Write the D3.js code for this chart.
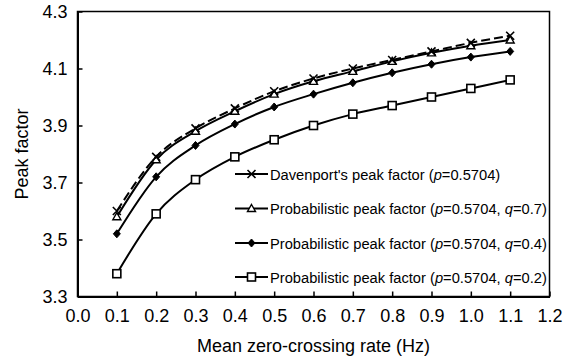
<!DOCTYPE html>
<html>
<head>
<meta charset="utf-8">
<script src="https://cdn.jsdelivr.net/npm/d3@7.9.0/dist/d3.min.js"></script>
<style>
  body { margin: 0; background: #fff; }
  svg text { font-family: "Liberation Sans", Arial, sans-serif; fill: #000; }
</style>
</head>
<body>
<svg width="569" height="358"></svg>
<script>
// data
const rates = [0.1, 0.2, 0.3, 0.4, 0.5, 0.6, 0.7, 0.8, 0.9, 1.0, 1.1];
const davenport = [3.60, 3.79, 3.89, 3.96, 4.02, 4.065, 4.10, 4.13, 4.16, 4.19, 4.215];
const probQ07 = [3.58, 3.78, 3.88, 3.95, 4.01, 4.055, 4.09, 4.125, 4.155, 4.18, 4.20];
const probQ04 = [3.52, 3.72, 3.83, 3.905, 3.965, 4.01, 4.05, 4.085, 4.115, 4.14, 4.16];
const probQ02 = [3.38, 3.59, 3.71, 3.79, 3.85, 3.90, 3.94, 3.97, 4.00, 4.03, 4.06];
const xTicks = [0, 0.1, 0.2, 0.3, 0.4, 0.5, 0.6, 0.7, 0.8, 0.9, 1.0, 1.1, 1.2];
const yTicks = [3.3, 3.5, 3.7, 3.9, 4.1, 4.3];

const series = [
  { name: "Davenport's peak factor", q: null, values: davenport, marker: 'cross', dash: '9,4' },
  { name: 'Probabilistic peak factor', q: '0.7', values: probQ07, marker: 'triangle', dash: null },
  { name: 'Probabilistic peak factor', q: '0.4', values: probQ04, marker: 'diamond', dash: null },
  { name: 'Probabilistic peak factor', q: '0.2', values: probQ02, marker: 'square', dash: null }
];

const svg = d3.select('svg');
const plotL = 77.5, plotR = 549.5, plotT = 11.5, plotB = 296.5;

let x = d3.scaleLinear().domain([0, 1.2]).range([plotL, plotR]);
let y = d3.scaleLinear().domain([3.3, 4.3]).range([plotB, plotT]);

// frame
svg.append('rect')
  .attr('x', plotL).attr('y', plotT)
  .attr('width', plotR - plotL).attr('height', plotB - plotT)
  .attr('fill', 'none').attr('stroke', '#000').attr('stroke-width', 1.5);

// axes, ticks pointing inwards
let xAxis = svg.append('g')
  .attr('transform', `translate(0,${plotB})`)
  .call(d3.axisBottom(x).tickValues(xTicks).tickSizeInner(-5).tickSizeOuter(0).tickPadding(0).tickFormat(d3.format('.1f')));
let yAxis = svg.append('g')
  .attr('transform', `translate(${plotL},0)`)
  .call(d3.axisLeft(y).tickValues(yTicks).tickSizeInner(-5).tickSizeOuter(0).tickPadding(10).tickFormat(d3.format('.1f')));

[xAxis, yAxis].forEach((g) => {
  g.attr('font-family', null).attr('font-size', null);
  g.select('.domain').attr('stroke', '#000').attr('stroke-width', 2);
  g.selectAll('.tick line').attr('stroke', '#000').attr('stroke-width', 1.5);
  g.selectAll('.tick text').style('font-size', '18px').attr('fill', '#000');
});
xAxis.selectAll('.tick text').attr('y', 25).attr('dy', null);
yAxis.selectAll('.tick text').attr('dy', '0.35em');

// axis titles
svg.append('text')
  .attr('x', (plotL + plotR) / 2).attr('y', 352)
  .attr('text-anchor', 'middle').style('font-size', '18px')
  .text('Mean zero-crossing rate (Hz)');
svg.append('text')
  .attr('transform', `translate(28,${(plotT + plotB) / 2}) rotate(-90)`)
  .attr('text-anchor', 'middle').style('font-size', '18px')
  .text('Peak factor');

function drawMarker(g, kind, cx, cy) {
  if (kind === 'cross') {
    g.append('path')
      .attr('d', `M${cx - 4},${cy - 4}L${cx + 4},${cy + 4}M${cx - 4},${cy + 4}L${cx + 4},${cy - 4}`)
      .attr('stroke', '#000').attr('stroke-width', 1.6).attr('fill', 'none');
  } else if (kind === 'triangle') {
    g.append('path')
      .attr('d', `M${cx},${cy - 4}L${cx + 4},${cy + 3}L${cx - 4},${cy + 3}Z`)
      .attr('stroke', '#000').attr('stroke-width', 1.4).attr('fill', '#fff');
  } else if (kind === 'diamond') {
    g.append('path')
      .attr('d', `M${cx},${cy - 4}L${cx + 3.5},${cy}L${cx},${cy + 4}L${cx - 3.5},${cy}Z`)
      .attr('stroke', '#000').attr('stroke-width', 1).attr('fill', '#000');
  } else {
    g.append('rect')
      .attr('x', cx - 4).attr('y', cy - 4).attr('width', 8).attr('height', 8)
      .attr('stroke', '#000').attr('stroke-width', 1.6).attr('fill', '#fff');
  }
}

let line = d3.line()
  .x((d) => x(d[0]))
  .y((d) => y(d[1]))
  .curve(d3.curveMonotoneX);

// draw bottom series first so Davenport sits on top
series.slice().reverse().forEach((s) => {
  let pts = rates.map((r, i) => [r, s.values[i]]);
  let g = svg.append('g');
  g.append('path')
    .attr('d', line(pts))
    .attr('fill', 'none').attr('stroke', '#000').attr('stroke-width', 2)
    .attr('stroke-dasharray', s.dash);
  pts.forEach((p) => drawMarker(g, s.marker, x(p[0]), y(p[1])));
});

// legend
let legendY = [174, 208.5, 243, 277];
series.forEach((s, i) => {
  let ly = legendY[i];
  let g = svg.append('g');
  g.append('line')
    .attr('x1', 235).attr('x2', 268).attr('y1', ly).attr('y2', ly)
    .attr('stroke', '#000').attr('stroke-width', 2);
  drawMarker(g, s.marker, 251.5, ly);
  let t = g.append('text').attr('x', 270).attr('y', ly + 5.5).style('font-size', '14.7px');
  t.append('tspan').text(s.name + ' (');
  t.append('tspan').style('font-style', 'italic').text('p');
  t.append('tspan').text('=0.5704' + (s.q ? ', ' : ')'));
  if (s.q) {
    t.append('tspan').style('font-style', 'italic').text('q');
    t.append('tspan').text('=' + s.q + ')');
  }
});
</script>
</body>
</html>
